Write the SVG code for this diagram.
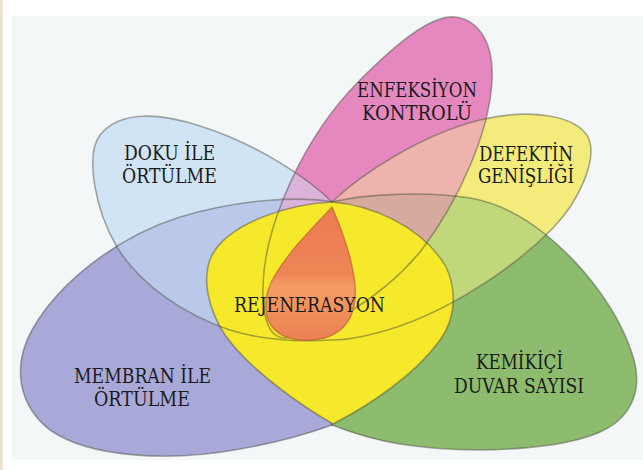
<svg xmlns="http://www.w3.org/2000/svg" xmlns:xlink="http://www.w3.org/1999/xlink" width="643" height="470" viewBox="0 0 643 470">
  <style>
    .edge { fill: none; stroke: #45453a; stroke-opacity: 0.45; stroke-width: 1.6; }
    .lbl { font-family: "DejaVu Serif", "Liberation Serif", serif; font-size: 20px; fill: #1b1b1b; }
  </style>
  <defs>
    <linearGradient id="g-orange" x1="0" y1="0" x2="0" y2="1">
      <stop offset="0" stop-color="#ec7a52"/>
      <stop offset="0.5" stop-color="#ee8655"/>
      <stop offset="0.6" stop-color="#f49c66"/>
      <stop offset="0.72" stop-color="#f29460"/>
      <stop offset="1" stop-color="#ec8052"/>
    </linearGradient>
    <clipPath id="c-blue"><use href="#s-blue"/></clipPath>
    <clipPath id="c-pink"><use href="#s-pink"/></clipPath>
    <clipPath id="c-yp"><use href="#s-yp"/></clipPath>
    <clipPath id="c-green"><use href="#s-green"/></clipPath>
    <clipPath id="c-center">
      <path d="M332,202 C370,205 420,225 445,265 C458,290 455,320 440,340 C415,375 370,405 333,424 C300,405 250,370 225,335 C210,312 200,280 212,255 C230,222 290,204 332,202 Z"/>
    </clipPath>
  </defs>

  <rect width="643" height="470" fill="#ffffff"/>
  <rect x="12" y="16" width="631" height="444" fill="#f4f7f8"/>
  <rect x="0" y="0" width="2.5" height="470" fill="#eedfcc"/>

  <g id="membran-ile-ortulme" fill="#a9a9d9">
    <path id="s-purple" d="M332,202 C300,196 240,199 180,217 C120,236 60,280 32,330 C12,366 18,405 50,430 C90,458 170,462 240,449 C280,442 310,433 332,425 Z"/>
    <text class="lbl" x="74" y="383" textLength="137" lengthAdjust="spacingAndGlyphs">MEMBRAN İLE</text>
    <text class="lbl" x="94" y="406" textLength="96" lengthAdjust="spacingAndGlyphs">ÖRTÜLME</text>
  </g>

  <g id="kemikici-duvar-sayisi" fill="#8dbc6f">
    <path id="s-green" d="M332,202 C365,194 425,191 470,198 C500,203 525,218 545,234 C580,262 620,310 634,360 C642,390 632,418 600,432 C560,450 470,455 400,444 C370,439 350,432 332,425 Z"/>
    <text class="lbl" x="476" y="369" textLength="87" lengthAdjust="spacingAndGlyphs">KEMİKİÇİ</text>
    <text class="lbl" x="454" y="393" textLength="130" lengthAdjust="spacingAndGlyphs">DUVAR SAYISI</text>
  </g>

  <g id="doku-ile-ortulme" fill="#d0e4f6">
    <path id="s-blue" d="M332,202 C310,180 260,145 200,126 C160,113 120,110 100,135 C85,155 95,210 117,247 C140,285 185,315 230,330 C265,341 300,342 332,340 Z"/>
    <text class="lbl" x="124" y="160" textLength="91" lengthAdjust="spacingAndGlyphs">DOKU İLE</text>
    <text class="lbl" x="122" y="183" textLength="95" lengthAdjust="spacingAndGlyphs">ÖRTÜLME</text>
  </g>

  <g id="enfeksiyon-kontrolu" fill="#e688c0">
    <path id="s-pink" d="M455,17 C480,20 494,45 492,80 C490,130 460,200 420,252 C380,300 320,333 285,338 C268,338 262,315 263,287 C264,230 300,140 360,80 C395,45 430,15 455,17 Z"/>
    <text class="lbl" x="357" y="97" textLength="120" lengthAdjust="spacingAndGlyphs">ENFEKSİYON</text>
    <text class="lbl" x="362" y="120" textLength="110" lengthAdjust="spacingAndGlyphs">KONTROLÜ</text>
  </g>

  <g id="defektin-genisligi" fill="#f3ec7c">
    <path id="s-yp" d="M332,202 C360,175 420,135 480,120 C530,108 575,115 588,137 C598,158 580,200 553,228 C520,262 460,305 400,326 C370,336 350,340 332,340 Z"/>
    <text class="lbl" x="479" y="161" textLength="94" lengthAdjust="spacingAndGlyphs">DEFEKTİN</text>
    <text class="lbl" x="478" y="183" textLength="96" lengthAdjust="spacingAndGlyphs">GENİŞLİĞİ</text>
  </g>

  <g id="overlaps">
    <use href="#s-purple" fill="#bac9ea" clip-path="url(#c-blue)"/>
    <use href="#s-pink" fill="#dbb2da" clip-path="url(#c-blue)"/>
    <use href="#s-pink" fill="#efb3ad" clip-path="url(#c-yp)"/>
    <use href="#s-green" fill="#c0d77b" clip-path="url(#c-yp)"/>
    <g clip-path="url(#c-green)">
      <use href="#s-pink" fill="#d6ab9e" clip-path="url(#c-yp)"/>
    </g>
  </g>

  <g id="outlines">
    <use href="#s-purple" class="edge"/>
    <use href="#s-green" class="edge"/>
    <use href="#s-blue" class="edge"/>
    <use href="#s-pink" class="edge"/>
    <use href="#s-yp" class="edge"/>
  </g>

  <g id="rejenerasyon">
    <path id="s-center" fill="#f6e92b" d="M332,202 C370,205 420,225 445,265 C458,290 455,320 440,340 C415,375 370,405 333,424 C300,405 250,370 225,335 C210,312 200,280 212,255 C230,222 290,204 332,202 Z"/>
    <g clip-path="url(#c-center)">
      <path class="edge" d="M455,17 C480,20 494,45 492,80 C490,130 460,200 420,252 C380,300 320,333 285,338 C268,338 262,315 263,287 C264,230 300,140 360,80 C395,45 430,15 455,17 Z"/>
      <path class="edge" d="M117,247 C140,285 185,315 230,330 C265,341 300,342 332,340 C350,340 370,336 400,326 C460,305 520,262 553,228"/>
    </g>
    <path class="edge" d="M332,202 C370,205 420,225 445,265 C458,290 455,320 440,340 C415,375 370,405 333,424 C300,405 250,370 225,335 C210,312 200,280 212,255 C230,222 290,204 332,202 Z"/>
    <path fill="url(#g-orange)" stroke="#a8532a" stroke-opacity="0.55" stroke-width="1.4" d="M332,207 C340,225 352,255 355,285 C357,310 350,330 325,338 C305,343 285,340 275,330 C262,318 263,295 275,275 C290,250 315,225 332,207 Z"/>
    <text class="lbl" x="234" y="312" textLength="151" lengthAdjust="spacingAndGlyphs">REJENERASYON</text>
  </g>
</svg>
